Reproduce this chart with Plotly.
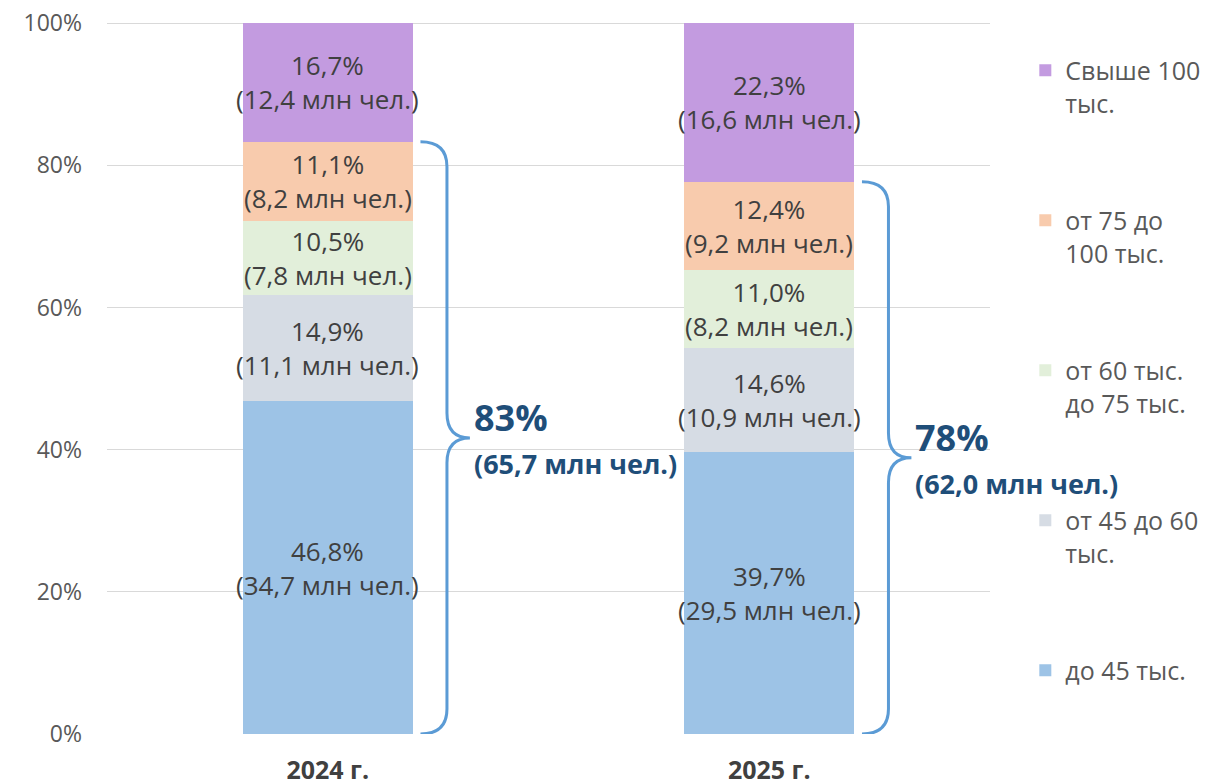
import plotly.graph_objects as go

years = ["2024 г.", "2025 г."]
groups = ["до 45 тыс.", "от 45 до 60<br>тыс.", "от 60 тыс.<br>до 75 тыс.",
          "от 75 до<br>100 тыс.", "Свыше 100<br>тыс."]
share_2024 = [46.8, 14.9, 10.5, 11.1, 16.7]
share_2025 = [39.7, 14.6, 11.0, 12.4, 22.3]
people_2024 = [34.7, 11.1, 7.8, 8.2, 12.4]
people_2025 = [29.5, 10.9, 8.2, 9.2, 16.6]
brace_pct = ["83%", "78%"]
brace_people = ["(65,7 млн чел.)", "(62,0 млн чел.)"]
y_ticks = [0, 20, 40, 60, 80, 100]

colors = ["#9DC3E6", "#D6DCE4", "#E2EFDA", "#F8CBAD", "#C39BE0"]
FONT = "Open Sans"
xs = [0, 1]
shares = [share_2024, share_2025]
people = [people_2024, people_2025]


def fmt(v):
    return f"{v:.1f}".replace(".", ",")


fig = go.Figure()
for i, name in enumerate(groups):
    fig.add_trace(go.Bar(
        x=xs, y=[share_2024[i], share_2025[i]], name=name,
        marker=dict(color=colors[i], line=dict(width=0)),
        width=0.385, legendgroup=str(i), legendrank=100 - i, hoverinfo="skip"))

# segment labels
for k, x in enumerate(xs):
    base = 0
    for v, p in zip(shares[k], people[k]):
        fig.add_annotation(x=x, y=base + v / 2, text=f"{fmt(v)}%<br>({fmt(p)} млн чел.)",
                           showarrow=False, font=dict(family=FONT, size=26, color="#404040"))
        base += v

# braces
tip, vert, point, r = 0.21, 0.27, 0.322, 3.5
for k, x in enumerate(xs):
    top = sum(shares[k][:4])
    mid = top / 2
    xt, xv, xp = x + tip, x + vert, x + point
    path = (f"M{xt},{top} Q{xv},{top} {xv},{top - r} L{xv},{mid + r} "
            f"Q{xv},{mid} {xp},{mid} Q{xv},{mid} {xv},{mid - r} "
            f"L{xv},{r} Q{xv},0 {xt},0")
    fig.add_shape(type="path", path=path, xref="x", yref="y",
                  line=dict(color="#5B9BD5", width=3))
    fig.add_annotation(x=xp, y=mid, text=f"<b>{brace_pct[k]}</b>", showarrow=False,
                       xanchor="left", yanchor="middle", xshift=2, yshift=20,
                       font=dict(family=FONT, size=36, color="#1F4E79"))
    fig.add_annotation(x=xp, y=mid, text=f"<b>{brace_people[k]}</b>", showarrow=False,
                       xanchor="left", yanchor="middle", xshift=2, yshift=-26,
                       font=dict(family=FONT, size=27, color="#1F4E79"))

# page body has an 8px margin, so the margins are shifted to compensate
fig.update_layout(
    barmode="stack",
    width=1210, height=784,
    paper_bgcolor="white", plot_bgcolor="white",
    margin=dict(l=99, r=228, t=8, b=58, autoexpand=False),
    font=dict(family=FONT, color="#595959"),
    bargap=0,
    legend=dict(x=1.04, y=0.956, xanchor="left", yanchor="top",
                traceorder="grouped", tracegroupgap=82, valign="top",
                font=dict(family=FONT, size=25, color="#595959")),
    xaxis=dict(range=[-0.5, 1.5], tickvals=xs, ticktext=[f"<b>{y}</b>" for y in years],
               showgrid=False, zeroline=False, showline=False, ticks="", automargin=False,
               tickfont=dict(family=FONT, size=25, color="#404040"), ticklabelstandoff=19,
               ticklabeloverflow="allow"),
    yaxis=dict(range=[0, 101], tickvals=y_ticks, ticktext=[f"{v}%" for v in y_ticks],
               showgrid=True, automargin=False, ticklabeloverflow="allow",
               gridcolor="#D9D9D9", gridwidth=1, zeroline=False, showline=False,
               tickfont=dict(family=FONT, size=23, color="#595959"), ticklabelstandoff=24),
)

fig.write_html("out.html")
